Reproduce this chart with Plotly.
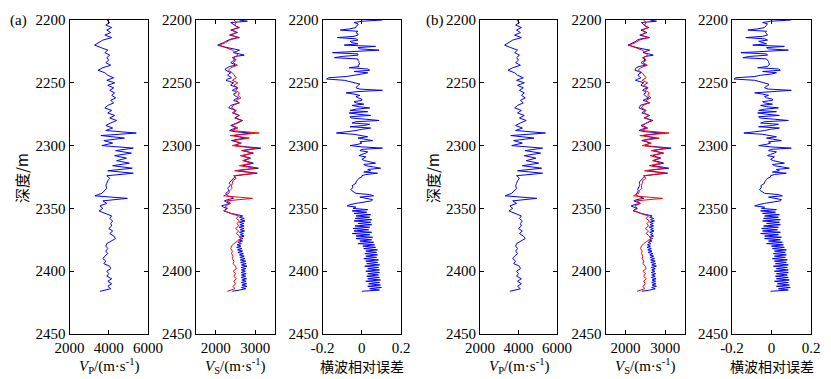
import plotly.graph_objects as go

# ---------------- data ----------------
depth_2m = list(range(2200, 2418, 2))  # m, sampling grid of Vp and measured Vs
depth_1m = list(range(2200, 2417, 1))  # m, sampling grid of predicted Vs and errors

vp = [3900, 4050, 3850, 4150, 3900, 4100, 3800, 4150, 3700, 3500,
      3280, 3600, 3950, 3800, 4050, 3900, 4000, 3850, 4100, 3700,
      3450, 3800, 3950, 4250, 3900, 4300, 3950, 4250, 4050, 4300,
      4150, 4350, 4100, 4250, 3950, 3800, 4150, 3950, 4300, 4050,
      4400, 4100, 3850, 4200, 3850, 5400, 3600, 4800, 3750, 4200,
      3650, 5250, 4350, 5150, 4300, 4900, 4400, 5050, 4200, 5200,
      3950, 5250, 3900, 4050, 3950, 3900, 3850, 3900, 3750, 3650,
      3300, 4950, 3700, 3900, 3550, 3700, 3500, 3800, 4150, 4050,
      4200, 4100, 4150, 4000, 4200, 4050, 4250, 4350, 4100, 3900,
      3850, 3950, 3850, 3950, 3800, 3700, 3850, 3750, 4050, 4100,
      3900, 4000, 3900, 4150, 3950, 4150, 3950, 4100, 3550]

vs_meas = [2460, 2520, 2480, 2560, 2420, 2500, 2400, 2560, 2350, 2250,
           2090, 2250, 2420, 2500, 2560, 2460, 2520, 2440, 2550, 2380,
           2320, 2420, 2480, 2520, 2420, 2560, 2460, 2560, 2500, 2600,
           2560, 2640, 2520, 2580, 2440, 2400, 2520, 2460, 2580, 2500,
           2640, 2540, 2420, 2560, 2400, 3100, 2360, 2850, 2450, 2650,
           2420, 3000, 2650, 2950, 2620, 2850, 2680, 2900, 2600, 3000,
           2480, 3010, 2450, 2520, 2430, 2420, 2400, 2410, 2350, 2330,
           2200, 2930, 2280, 2380, 2240, 2300, 2220, 2380, 2580, 2520,
           2600, 2540, 2580, 2500, 2580, 2520, 2600, 2640, 2540, 2460,
           2400, 2380, 2420, 2400, 2440, 2420, 2460, 2440, 2500, 2520,
           2440, 2500, 2460, 2520, 2460, 2500, 2440, 2480, 2290]

vs_pred_a = [2600, 2800, 2380, 2420, 2450, 2520, 2600, 2450, 2380, 2480,
             2550, 2450, 2350, 2480, 2600, 2400, 2300, 2250, 2200, 2120,
             2050, 2150, 2280, 2450, 2600, 2520, 2450, 2600, 2720, 2500,
             2420, 2460, 2480, 2420, 2380, 2450, 2500, 2350, 2280, 2240,
             2250, 2320, 2380, 2330, 2300, 2360, 2400, 2300, 2260, 2350,
             2450, 2400, 2380, 2480, 2560, 2480, 2420, 2500, 2520, 2450,
             2470, 2530, 2580, 2500, 2450, 2540, 2600, 2480, 2380, 2350,
             2330, 2420, 2500, 2460, 2420, 2520, 2600, 2540, 2480, 2580,
             2680, 2620, 2560, 2450, 2380, 2460, 2520, 2420, 2350, 2500,
             2900, 2650, 2460, 2600, 2750, 2550, 2400, 2520, 2600, 2560,
             2500, 2800, 3140, 2900, 2700, 2820, 2950, 2800, 2700, 2780,
             2880, 2800, 2720, 2850, 2950, 2820, 2680, 2900, 3080, 2800,
             2560, 2800, 3050, 2750, 2500, 2480, 2450, 2400, 2380, 2360,
             2340, 2370, 2360, 2320, 2300, 2320, 2330, 2290, 2260, 2280,
             2300, 2400, 2450, 2300, 2220, 2280, 2350, 2250, 2150, 2200,
             2280, 2230, 2200, 2300, 2380, 2550, 2680, 2600, 2720, 2620,
             2740, 2600, 2710, 2610, 2720, 2590, 2710, 2620, 2730, 2600,
             2700, 2620, 2720, 2600, 2690, 2580, 2680, 2560, 2650, 2540,
             2640, 2530, 2660, 2550, 2680, 2560, 2700, 2600, 2720, 2610,
             2740, 2620, 2760, 2630, 2770, 2650, 2790, 2640, 2760, 2650,
             2750, 2640, 2770, 2650, 2760, 2640, 2780, 2660, 2770, 2650,
             2780, 2660, 2790, 2650, 2760, 2600, 2420]

err_a = [0.105, 0.0, -0.04, -0.02, -0.02, -0.03, -0.03, -0.06, -0.11, -0.02,
         -0.03, -0.02, -0.02, -0.04, -0.125, -0.03, -0.02, -0.06, -0.05, -0.02,
         -0.09, 0.07, -0.02, -0.01, 0.088, -0.05, -0.15, -0.02, -0.02, -0.1,
         -0.14, -0.02, -0.02, -0.015, -0.015, -0.01, -0.02, -0.015, -0.065, 0.03,
         0.04, -0.04, 0.03, 0.0, -0.05, -0.08, -0.17, -0.18, -0.09, -0.06,
         -0.03, -0.01, -0.02, -0.025, -0.03, -0.01, 0.105, -0.02, -0.08, -0.04,
         -0.01, -0.03, -0.02, 0.0, 0.0, -0.04, -0.03, 0.01, -0.05, -0.02,
         0.04, -0.03, -0.06, 0.03, -0.065, -0.02, 0.045, -0.06, -0.055, 0.02,
         0.088, -0.03, -0.05, 0.04, 0.01, -0.06, 0.045, 0.0, -0.03, -0.08,
         -0.13, -0.04, -0.01, 0.03, -0.02, 0.01, 0.055, -0.01, 0.0, -0.02,
         -0.06, 0.0, 0.105, 0.0, -0.01, 0.03, 0.02, 0.0, -0.015, 0.02,
         0.01, 0.0, 0.015, 0.04, 0.07, 0.01, 0.02, 0.06, 0.096, 0.03,
         0.045, 0.01, 0.08, 0.02, 0.0, 0.0, -0.015, -0.02, -0.025, -0.03,
         -0.03, -0.04, -0.05, -0.045, -0.05, -0.055, -0.05, -0.04, -0.03, 0.04,
         0.06, -0.01, 0.02, 0.055, 0.05, 0.0, -0.03, -0.06, -0.075, -0.03,
         -0.045, 0.03, -0.05, 0.025, -0.04, 0.045, -0.03, 0.04, -0.035, 0.05,
         -0.04, 0.045, -0.02, 0.05, -0.035, 0.04, -0.045, 0.035, -0.04, 0.05,
         -0.05, 0.04, -0.03, 0.055, -0.03, 0.05, -0.01, 0.06, -0.02, 0.065,
         0.005, 0.07, 0.01, 0.08, 0.02, 0.075, 0.015, 0.08, 0.02, 0.075,
         0.01, 0.085, 0.02, 0.08, 0.025, 0.09, 0.015, 0.085, 0.03, 0.09,
         0.02, 0.09, 0.03, 0.085, 0.025, 0.09, 0.03, 0.095, 0.02, 0.09,
         0.035, 0.095, 0.03, 0.1, 0.04, 0.09, 0.0]

vs_pred_b = [2620, 2780, 2400, 2430, 2460, 2510, 2590, 2460, 2390, 2470,
             2540, 2460, 2360, 2470, 2610, 2390, 2290, 2260, 2210, 2130,
             2060, 2160, 2290, 2440, 2610, 2510, 2440, 2590, 2700, 2510,
             2430, 2470, 2490, 2430, 2390, 2440, 2510, 2340, 2270, 2250,
             2240, 2330, 2390, 2340, 2310, 2350, 2390, 2310, 2250, 2360,
             2460, 2410, 2390, 2470, 2570, 2470, 2430, 2510, 2510, 2460,
             2480, 2520, 2590, 2510, 2440, 2550, 2610, 2470, 2370, 2360,
             2340, 2410, 2510, 2450, 2410, 2530, 2610, 2530, 2470, 2590,
             2690, 2610, 2550, 2460, 2390, 2450, 2530, 2410, 2340, 2510,
             2920, 2640, 2450, 2610, 2760, 2540, 2410, 2530, 2610, 2550,
             2490, 2810, 3150, 2890, 2690, 2830, 2960, 2790, 2690, 2790,
             2890, 2790, 2710, 2860, 2960, 2810, 2670, 2910, 3090, 2790,
             2550, 2810, 3060, 2740, 2490, 2470, 2440, 2410, 2390, 2350,
             2350, 2360, 2350, 2330, 2310, 2310, 2320, 2300, 2270, 2270,
             2290, 2410, 2460, 2290, 2210, 2290, 2360, 2240, 2140, 2210,
             2290, 2220, 2190, 2310, 2390, 2540, 2670, 2610, 2710, 2630,
             2730, 2610, 2700, 2620, 2710, 2600, 2700, 2630, 2720, 2610,
             2690, 2630, 2710, 2610, 2680, 2590, 2670, 2570, 2640, 2550,
             2630, 2540, 2650, 2560, 2670, 2570, 2690, 2610, 2710, 2620,
             2730, 2630, 2750, 2640, 2760, 2660, 2780, 2650, 2750, 2660,
             2740, 2650, 2760, 2660, 2750, 2650, 2770, 2670, 2760, 2660,
             2770, 2670, 2780, 2660, 2750, 2610, 2410]

err_b = [0.1, -0.005, -0.045, -0.02, -0.025, -0.03, -0.035, -0.07, -0.12, -0.025,
         -0.03, -0.025, -0.02, -0.045, -0.13, -0.035, -0.02, -0.065, -0.045, -0.025,
         -0.095, 0.065, -0.025, -0.015, 0.085, -0.055, -0.155, -0.025, -0.02, -0.11,
         -0.145, -0.025, -0.02, -0.015, -0.015, -0.01, -0.015, -0.02, -0.07, 0.035,
         0.045, -0.045, 0.025, 0.0, -0.055, -0.085, -0.18, -0.19, -0.085, -0.065,
         -0.035, -0.015, -0.015, -0.03, -0.035, -0.015, 0.1, -0.025, -0.085, -0.045,
         -0.015, -0.035, -0.025, 0.005, 0.005, -0.045, -0.035, 0.005, -0.055, -0.025,
         0.035, -0.035, -0.065, 0.025, -0.07, -0.025, 0.04, -0.065, -0.06, 0.015,
         0.085, -0.035, -0.055, 0.035, 0.005, -0.065, 0.04, -0.005, -0.035, -0.085,
         -0.14, -0.045, -0.015, 0.025, -0.025, 0.005, 0.05, -0.015, -0.005, -0.025,
         -0.065, -0.005, 0.1, -0.005, -0.015, 0.025, 0.015, -0.005, -0.02, 0.015,
         0.005, -0.005, 0.01, 0.035, 0.065, 0.005, 0.015, 0.055, 0.09, 0.025,
         0.04, 0.005, 0.075, 0.015, -0.005, -0.005, -0.02, -0.025, -0.03, -0.035,
         -0.035, -0.045, -0.055, -0.05, -0.055, -0.06, -0.055, -0.045, -0.035, 0.035,
         0.055, -0.015, 0.015, 0.05, 0.045, -0.005, -0.035, -0.065, -0.085, -0.035,
         -0.05, 0.025, -0.055, 0.02, -0.045, 0.04, -0.035, 0.035, -0.04, 0.045,
         -0.045, 0.04, -0.025, 0.045, -0.04, 0.035, -0.05, 0.03, -0.045, 0.045,
         -0.055, 0.035, -0.035, 0.05, -0.035, 0.045, -0.015, 0.055, -0.025, 0.06,
         0.0, 0.065, 0.005, 0.075, 0.015, 0.07, 0.01, 0.075, 0.015, 0.07,
         0.005, 0.08, 0.015, 0.075, 0.02, 0.085, 0.01, 0.08, 0.025, 0.085,
         0.015, 0.085, 0.025, 0.08, 0.02, 0.085, 0.025, 0.09, 0.015, 0.085,
         0.03, 0.09, 0.025, 0.095, 0.035, 0.085, -0.005]

y_ticks = [2200, 2250, 2300, 2350, 2400, 2450]
vp_ticks = [2000, 4000, 6000]
vs_ticks = [2000, 3000]
err_ticks = [-0.2, 0, 0.2]
err_ticktext = ["-0.2", "0", "0.2"]

for arr in (vp, vs_meas):
    assert len(arr) == len(depth_2m), len(arr)
for arr in (vs_pred_a, err_a, vs_pred_b, err_b):
    assert len(arr) == len(depth_1m), len(arr)

# ---------------- figure ----------------
OFF = 8                      # page body margin of the html page
W, H = 831 - OFF, 379 - OFF  # figure size so that it fills the window
SERIF = "Liberation Serif, Times New Roman, serif"
CJK = "Noto Sans CJK SC"
BLUE = "#0000FF"
RED = "#FF0000"


def px(x):
    return (x - OFF) / W


def py(y):
    return (H - (y - OFF)) / H


panels_px = [(69.5, 148), (196, 275), (322.7, 401), (480, 557), (605.7, 685), (732, 811)]
y_top, y_bot = 20, 334
ydom = [py(y_bot), py(y_top)]

fig = go.Figure()

series = [
    [(vp, depth_2m, BLUE)],
    [(vs_pred_a, depth_1m, BLUE), (vs_meas, depth_2m, RED)],
    [(err_a, depth_1m, BLUE)],
    [(vp, depth_2m, BLUE)],
    [(vs_pred_b, depth_1m, BLUE), (vs_meas, depth_2m, RED)],
    [(err_b, depth_1m, BLUE)],
]
for i, lst in enumerate(series):
    sfx = "" if i == 0 else str(i + 1)
    for vals, dep, col in lst:
        fig.add_trace(go.Scatter(x=vals, y=dep, mode="lines",
                                 line=dict(color=col, width=1),
                                 xaxis="x" + sfx, yaxis="y" + sfx,
                                 showlegend=False, hoverinfo="skip"))

axis_common = dict(showline=True, linecolor="black", linewidth=1.2, mirror="ticks",
                   ticks="inside", ticklen=4, tickwidth=1, tickcolor="black",
                   showgrid=False, zeroline=False, automargin=False,
                   tickfont=dict(family=SERIF, size=15, color="black"))

xinfo = [
    dict(range=[2000, 6000], tickvals=vp_ticks),
    dict(range=[1500, 3500], tickvals=vs_ticks),
    dict(range=[-0.2, 0.2], tickvals=err_ticks, ticktext=err_ticktext),
    dict(range=[2000, 6000], tickvals=vp_ticks),
    dict(range=[1500, 3500], tickvals=vs_ticks),
    dict(range=[-0.2, 0.2], tickvals=err_ticks, ticktext=err_ticktext),
]
layout = {}
for i, (x0, x1) in enumerate(panels_px):
    sfx = "" if i == 0 else str(i + 1)
    layout["xaxis" + sfx] = dict(domain=[px(x0), px(x1)], anchor="y" + sfx,
                                 **xinfo[i], **axis_common)
    layout["yaxis" + sfx] = dict(domain=ydom, anchor="x" + sfx,
                                 range=[2450, 2200], tickvals=y_ticks, **axis_common)

annotations = []
xtitles = ["<i>V</i><sub>P</sub>/(m·s<sup>-1</sup>)",
           "<i>V</i><sub>S</sub>/(m·s<sup>-1</sup>)",
           None,
           "<i>V</i><sub>P</sub>/(m·s<sup>-1</sup>)",
           "<i>V</i><sub>S</sub>/(m·s<sup>-1</sup>)",
           None]
for i, (x0, x1) in enumerate(panels_px):
    xc = px((x0 + x1) / 2)
    if xtitles[i] is not None:
        annotations.append(dict(text=xtitles[i], x=xc, y=py(366), xref="paper", yref="paper",
                                showarrow=False, xanchor="center", yanchor="middle",
                                font=dict(family=SERIF, size=15, color="black")))
    else:
        annotations.append(dict(text="横波相对误差", x=xc, y=py(366), xref="paper", yref="paper",
                                showarrow=False, xanchor="center", yanchor="middle",
                                font=dict(family=CJK, size=14, color="black")))

for xc in (21, 432):
    annotations.append(dict(text="深度/m", x=px(xc), y=py(178), xref="paper", yref="paper",
                            showarrow=False, textangle=-90, xanchor="center", yanchor="middle",
                            font=dict(family=CJK, size=15, color="black")))

annotations.append(dict(text="(a)", x=px(18), y=py(21), xref="paper", yref="paper",
                        showarrow=False, xanchor="center", yanchor="middle",
                        font=dict(family=SERIF, size=15, color="black")))
annotations.append(dict(text="(b)", x=px(435), y=py(21), xref="paper", yref="paper",
                        showarrow=False, xanchor="center", yanchor="middle",
                        font=dict(family=SERIF, size=15, color="black")))

fig.update_layout(width=W, height=H, margin=dict(l=0, r=0, t=0, b=0),
                  paper_bgcolor="white", plot_bgcolor="white",
                  annotations=annotations, **layout)

fig.write_html("out.html")
